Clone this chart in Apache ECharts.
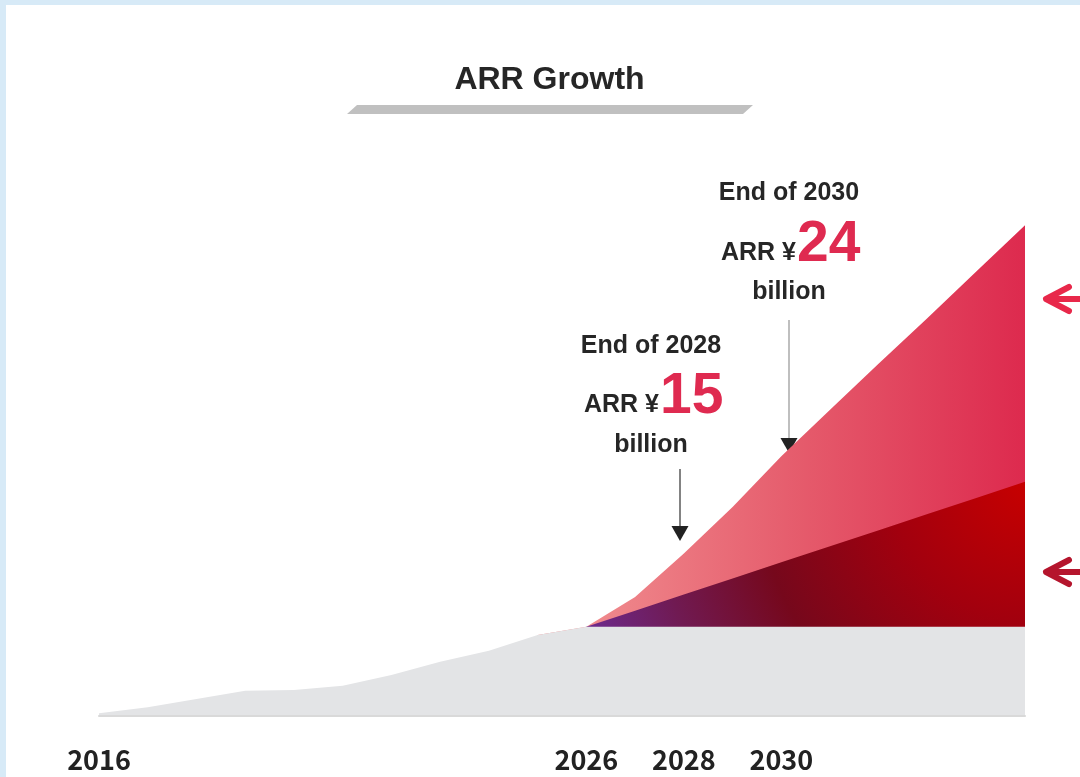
<!DOCTYPE html>
<html>
<head>
<meta charset="utf-8">
<title>ARR Growth</title>
<script src="https://cdn.jsdelivr.net/npm/echarts@6/dist/echarts.min.js"></script>
<style>
  html, body { margin: 0; padding: 0; width: 1080px; height: 777px; overflow: hidden; background: #d7eaf7; }
  #panel { position: absolute; left: 6px; top: 5px; right: 0; bottom: 0; background: #ffffff; }
  #chart { position: absolute; left: 0; top: 0; width: 1080px; height: 777px; }
</style>
</head>
<body>
<div id="panel"></div>
<div id="chart"></div>
<script>
// Years along the horizontal axis and the ones that get a label
const years = ['2016', '2017', '2018', '2019', '2020', '2021', '2022', '2023', '2024', '2025',
               '2026', '2027', '2028', '2029', '2030', '2031', '2032', '2033', '2034', '2035'];
const labelledYears = ['2016', '2026', '2028', '2030'];

// ARR in ¥ billion
// existing business (flat after 2026)
const existingArr = [0.2, 0.76, 1.53, 2.3, 2.36, 2.76, 3.75, 4.98, 6.0, 7.45,
                     8.22, 8.22, 8.22, 8.22, 8.22, 8.22, 8.22, 8.22, 8.22, 8.22];
// existing + organic growth
const organicArr = ['-', '-', '-', '-', '-', '-', '-', '-', '-', '-',
                    8.22, 9.71, 11.2, 12.69, 14.18, 15.67, 17.16, 18.65, 20.14, 21.65];
// total ARR including new initiatives
const totalArr = ['-', '-', '-', '-', '-', '-', '-', '-', '-', 7.45,
                  8.22, 10.97, 15, 19.3, 24, 28.3, 32.6, 36.8, 41.1, 45.4];

// Callouts above the curve
const callouts = [
  { year: '2028', heading: 'End of 2028', prefix: 'ARR ¥', suffix: 'billion' },
  { year: '2030', heading: 'End of 2030', prefix: 'ARR ¥', suffix: 'billion' }
];

const chart = echarts.init(document.getElementById('chart'), null, { renderer: 'canvas' });

const textFont = '"Liberation Sans", Arial, sans-serif';
const dark = '#262626';
const accent = '#df2a50';

// Placement of each callout block: centre x, heading y, arrow x and arrow span
const calloutLayout = {
  '2028': { cx: 651, top: 346, numY: 397, prefixRight: 659, arrowX: 680, lineTop: 469, headTop: 526, tip: 541, lineColor: '#5a5a5a' },
  '2030': { cx: 789, top: 193, numY: 245, prefixRight: 796, arrowX: 789, lineTop: 320, headTop: 438, tip: 453, lineColor: '#aaaaaa' }
};

function valueFor(year) {
  return totalArr[years.indexOf(year)];
}

const graphics = [];
// title and the slanted bar under it
graphics.push({
  type: 'text',
  style: { text: 'ARR Growth', x: 549.5, y: 80, font: 'bold 32px ' + textFont, fill: dark, align: 'center', verticalAlign: 'middle' }
});
graphics.push({
  type: 'polygon',
  shape: { points: [[357, 105], [753, 105], [743, 114], [347, 114]] },
  style: { fill: '#c0c0c0' },
  silent: true
});

callouts.forEach(function (c) {
  const L = calloutLayout[c.year];
  const v = valueFor(c.year);
  graphics.push({
    type: 'text',
    style: { text: c.heading, x: L.cx, y: L.top, font: 'bold 25px ' + textFont, fill: dark, align: 'center', verticalAlign: 'middle' }
  });
  graphics.push({
    type: 'text',
    style: { text: c.prefix, x: L.prefixRight, y: L.numY + 8, font: 'bold 25px ' + textFont, fill: dark, align: 'right', verticalAlign: 'middle' }
  });
  graphics.push({
    type: 'text',
    style: { text: String(v), x: L.prefixRight + 1, y: L.numY, font: 'bold 57px ' + textFont, fill: accent, align: 'left', verticalAlign: 'middle' }
  });
  graphics.push({
    type: 'text',
    style: { text: c.suffix, x: L.cx, y: L.top + 99, font: 'bold 25px ' + textFont, fill: dark, align: 'center', verticalAlign: 'middle' }
  });
  graphics.push({
    type: 'line',
    shape: { x1: L.arrowX, y1: L.lineTop, x2: L.arrowX, y2: L.headTop + 2 },
    style: { stroke: L.lineColor, lineWidth: 1.5 }
  });
  graphics.push({
    type: 'polygon',
    shape: { points: [[L.arrowX - 8.5, L.headTop], [L.arrowX + 8.5, L.headTop], [L.arrowX, L.tip]] },
    style: { fill: '#222222' }
  });
});

// arrows at the right edge pointing back to the two layers
[{ y: 299, color: '#e8284a' }, { y: 572, color: '#b5152d' }].forEach(function (a) {
  graphics.push({
    type: 'polyline',
    shape: { points: [[1069, a.y - 12], [1046, a.y], [1069, a.y + 12]] },
    style: { stroke: a.color, lineWidth: 6, lineCap: 'round', lineJoin: 'round', fill: null }
  });
  graphics.push({
    type: 'line',
    shape: { x1: 1048, y1: a.y, x2: 1090, y2: a.y },
    style: { stroke: a.color, lineWidth: 6, lineCap: 'round' }
  });
});

const pinkFill = new echarts.graphic.LinearGradient(585, 0, 1025, 0, [
  { offset: 0, color: '#f08b8e' },
  { offset: 0.5, color: '#e55a6b' },
  { offset: 1, color: '#dd2a4e' }
], true);

const darkFill = new echarts.graphic.RadialGradient(1030, 480, 470, [
  { offset: 0, color: '#c80000' },
  { offset: 0.3, color: '#a2000e' },
  { offset: 0.58, color: '#76081c' },
  { offset: 0.8, color: '#701a52' },
  { offset: 1, color: '#6c2a90' }
], true);

function areaSeries(name, data, fill) {
  return {
    name: name,
    type: 'line',
    data: data,
    smooth: false,
    showSymbol: false,
    symbol: 'none',
    lineStyle: { width: 0 },
    areaStyle: { color: fill, opacity: 1 },
    silent: true,
    animation: false
  };
}

chart.setOption({
  animation: false,
  grid: { left: 99, right: 55, top: 175.5, bottom: 61.5, containLabel: false },
  xAxis: {
    type: 'category',
    data: years,
    boundaryGap: false,
    z: 5,
    axisTick: { show: false },
    axisLine: { show: true, lineStyle: { color: '#d9d9d9', width: 2 } },
    splitLine: { show: false },
    axisLabel: {
      interval: function (idx, val) { return labelledYears.indexOf(val) !== -1; },
      margin: 31,
      fontFamily: '"Noto Sans CJK JP", "Noto Sans", sans-serif',
      fontWeight: 'bold',
      fontSize: 27,
      color: '#222222'
    }
  },
  yAxis: { type: 'value', min: 0, max: 50, show: false, splitLine: { show: false } },
  series: [
    areaSeries('Total', totalArr, pinkFill),
    areaSeries('Organic', organicArr, darkFill),
    areaSeries('Existing', existingArr, '#e3e4e6')
  ],
  graphic: graphics
});
</script>
</body>
</html>
